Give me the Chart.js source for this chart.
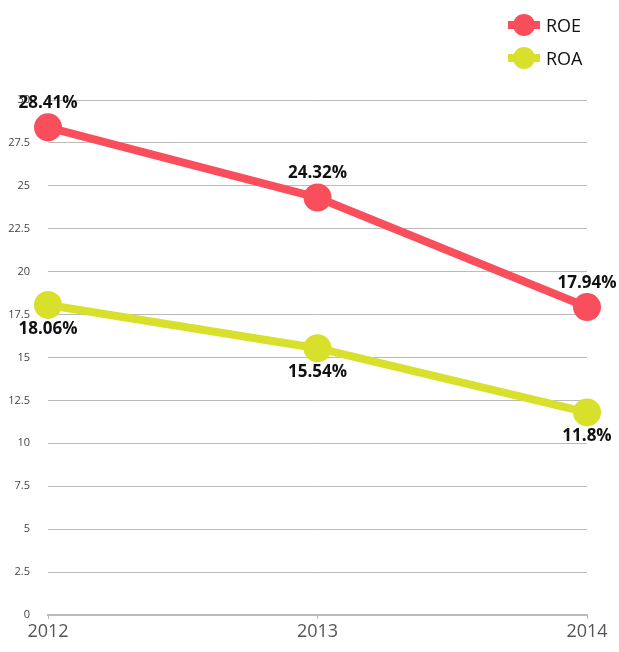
<!DOCTYPE html>
<html>
<head>
<meta charset="utf-8">
<script src="https://cdn.jsdelivr.net/npm/chart.js@4"></script>
<style>
  body { margin: 0; background: #fff; }
  #wrap { position: relative; width: 619px; height: 652px; }
  #legend { position: absolute; left: 508px; top: 8px; font-family: "Open Sans", sans-serif; font-size: 18px; color: #111; }
  .item { display: flex; align-items: center; height: 33px; }
  .mark { position: relative; width: 32px; height: 22px; margin-right: 6px; }
  .mark .bar { position: absolute; left: 0; top: 7px; width: 32px; height: 8px; }
  .mark .dot { position: absolute; left: 5px; top: 0; width: 22px; height: 22px; border-radius: 50%; }
</style>
</head>
<body>
<div id="wrap">
  <canvas id="grafico" width="619" height="652"></canvas>
  <div id="legend"></div>
</div>
<script>
// dados
const anos = ['2012', '2013', '2014'];
const roe = [28.41, 24.32, 17.94];
const roa = [18.06, 15.54, 11.8];
const nomes = ['ROE', 'ROA'];
const cores = ['#f94e5c', '#d8e02c'];

// legenda em HTML
const leg = document.getElementById('legend');
nomes.forEach((n, i) => {
    leg.innerHTML += '<div class="item"><div class="mark"><div class="bar" style="background:' + cores[i] +
        '"></div><div class="dot" style="background:' + cores[i] + '"></div></div>' + n + '</div>';
});

// rótulos de valor
const rotulos = {
    id: 'rotulos',
    afterDatasetsDraw(chart) {
        const ctx = chart.ctx;
        ctx.save();
        ctx.font = 'bold 17px "Open Sans", sans-serif';
        ctx.fillStyle = '#111';
        ctx.textBaseline = 'middle';
        chart.data.datasets.forEach((ds, di) => {
            chart.getDatasetMeta(di).data.forEach((pt, i) => {
                const txt = ds.data[i] + '%';
                const w = ctx.measureText(txt).width;
                let x = pt.x - w / 2;
                if (x < 18) x = 18;
                if (x + w > 617) x = 617 - w;
                const y = di === 0 ? pt.y - 24 : pt.y + 24;
                ctx.textAlign = 'left';
                ctx.fillText(txt, x, y);
            });
        });
        ctx.restore();
    }
};

new Chart(document.getElementById('grafico'), {
    type: 'line',
    data: {
        labels: anos,
        datasets: [
            { label: nomes[0], data: roe, borderColor: cores[0], backgroundColor: cores[0], borderWidth: 8, pointRadius: 10, pointHoverRadius: 10 },
            { label: nomes[1], data: roa, borderColor: cores[1], backgroundColor: cores[1], borderWidth: 8, pointRadius: 10, pointHoverRadius: 10 }
        ]
    },
    plugins: [rotulos],
    options: {
        responsive: false,
        animation: false,
        layout: { padding: { top: 100, right: 32, left: 0, bottom: 0 } },
        plugins: { legend: { display: false }, tooltip: { enabled: false } },
        scales: {
            x: {
                offset: false,
                grid: { drawOnChartArea: false, drawTicks: true, tickLength: 4, color: '#bbb' },
                border: { color: '#bbb', width: 2 },
                ticks: { color: '#555', font: { family: '"Open Sans", sans-serif', size: 18 }, padding: 2, maxRotation: 0 },
                afterFit(s) { s.height = 37; }
            },
            y: {
                min: 0, max: 30,
                grid: { color: '#bbb', drawTicks: false },
                border: { display: false },
                ticks: { stepSize: 2.5, color: '#444', font: { family: '"Open Sans", sans-serif', size: 11 }, padding: 18 },
                afterFit(s) { s.width = 48; }
            }
        }
    }
});
</script>
</body>
</html>
